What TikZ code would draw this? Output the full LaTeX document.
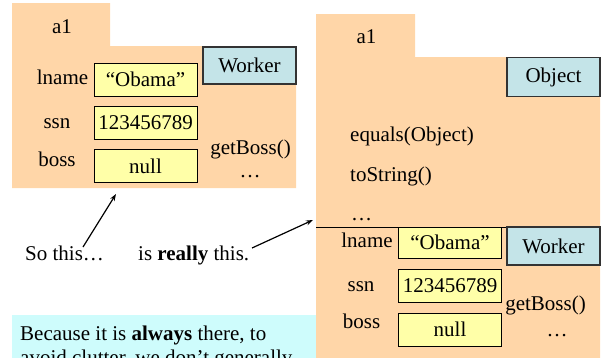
\documentclass[tikz,border=0pt]{standalone}
\usepackage{fontspec}
\setmainfont{Liberation Serif}
\usetikzlibrary{arrows.meta}
\definecolor{objfill}{RGB}{255,214,168}
\definecolor{valfill}{RGB}{255,255,168}
\definecolor{clsfill}{RGB}{196,228,232}
\definecolor{notefill}{RGB}{206,252,252}
\tikzset{
  txt/.style={inner sep=0pt, font=\fontsize{21}{25}\selectfont},
  lbl/.style={txt, anchor=base},
  valbox/.style={txt, draw=black, line width=0.9pt, fill=valfill,
    minimum width=103pt, minimum height=33pt},
  clsbox/.style={txt, draw=black!80, line width=1.1pt, fill=clsfill,
    minimum width=93pt, minimum height=37pt},
  pointer/.style={line width=1.2pt, -{Stealth[length=7pt,width=5pt]}}
}
\begin{document}
\begin{tikzpicture}[x=1pt,y=-1pt]
\useasboundingbox (0,0) rectangle (609,357);
\clip (0,0) rectangle (609,357);

% note box at the bottom (partly hidden)
\fill[notefill] (12,315) rectangle (320,380);
\node[lbl, anchor=base west] (note1) at (20,340) {Because it is \textbf{always} there, to};
\node[lbl, anchor=base west] (note2) at (20,364) {avoid clutter, we don't generally};

% ---------- short form of the object ----------
\fill[objfill] (12,3) -- (110,3) -- (110,46) -- (296,46) -- (296,188) -- (12,188) -- cycle;
\node[lbl] (a1L) at (62,33) {a1};
\node[clsbox, minimum height=37pt] (wL) at (249.5,65.5) {Worker};
\node[valbox] (lnL) at (145.5,79.5) {“Obama”};
\node[valbox] (ssL) at (145.5,122.5) {123456789};
\node[valbox] (bsL) at (145.5,166) {null};
\node[lbl] (lnameL) at (62.5,84) {lname};
\node[lbl] (ssnL) at (57,128) {ssn};
\node[lbl] (bossL) at (57,166) {boss};
\node[lbl] (gbL) at (250.5,154) {getBoss()};
\node[lbl] (dotsL) at (250,177) {…};

% ---------- full form of the object ----------
\fill[objfill] (316,14) -- (415,14) -- (415,57) -- (600,57) -- (600,380) -- (316,380) -- cycle;
\node[lbl] (a1R) at (366.5,43) {a1};
\node[clsbox, minimum height=39pt] (oR) at (553.5,77) {Object};
\node[lbl, anchor=base west] (eqR) at (350,141.5) {equals(Object)};
\node[lbl, anchor=base west] (tsR) at (350,181.5) {toString()};
\node[lbl, anchor=base west] (dotsR1) at (351,220) {…};
\coordinate (sepW) at (316,227);
\coordinate (sepE) at (600,227);
\draw[line width=1pt] (sepW) -- (sepE);
\node[clsbox, minimum height=38pt] (wR) at (553.5,246) {Worker};
\node[valbox, minimum height=31pt] (lnR) at (450,242.5) {“Obama”};
\node[valbox] (ssR) at (450,285.5) {123456789};
\node[valbox] (bsR) at (450,329.5) {null};
\node[lbl] (lnameR) at (367,247) {lname};
\node[lbl] (ssnR) at (361,291) {ssn};
\node[lbl] (bossR) at (361.5,328) {boss};
\node[lbl] (gbR) at (545.5,310) {getBoss()};
\node[lbl] (dotsR2) at (557,336) {…};

% ---------- captions and pointers ----------
\node[lbl, anchor=base west] (so) at (25,260) {So this…};
\node[lbl, anchor=base west] (really) at (138,260) {is \textbf{really} this.};
\coordinate (soTip) at (116,194);
\coordinate (reTip) at (313,220);
\coordinate (soFoot) at (83,247);
\coordinate (reFoot) at (252,248);
\draw[pointer] (soFoot) -- (soTip);
\draw[pointer] (reFoot) -- (reTip);
\end{tikzpicture}
\end{document}
